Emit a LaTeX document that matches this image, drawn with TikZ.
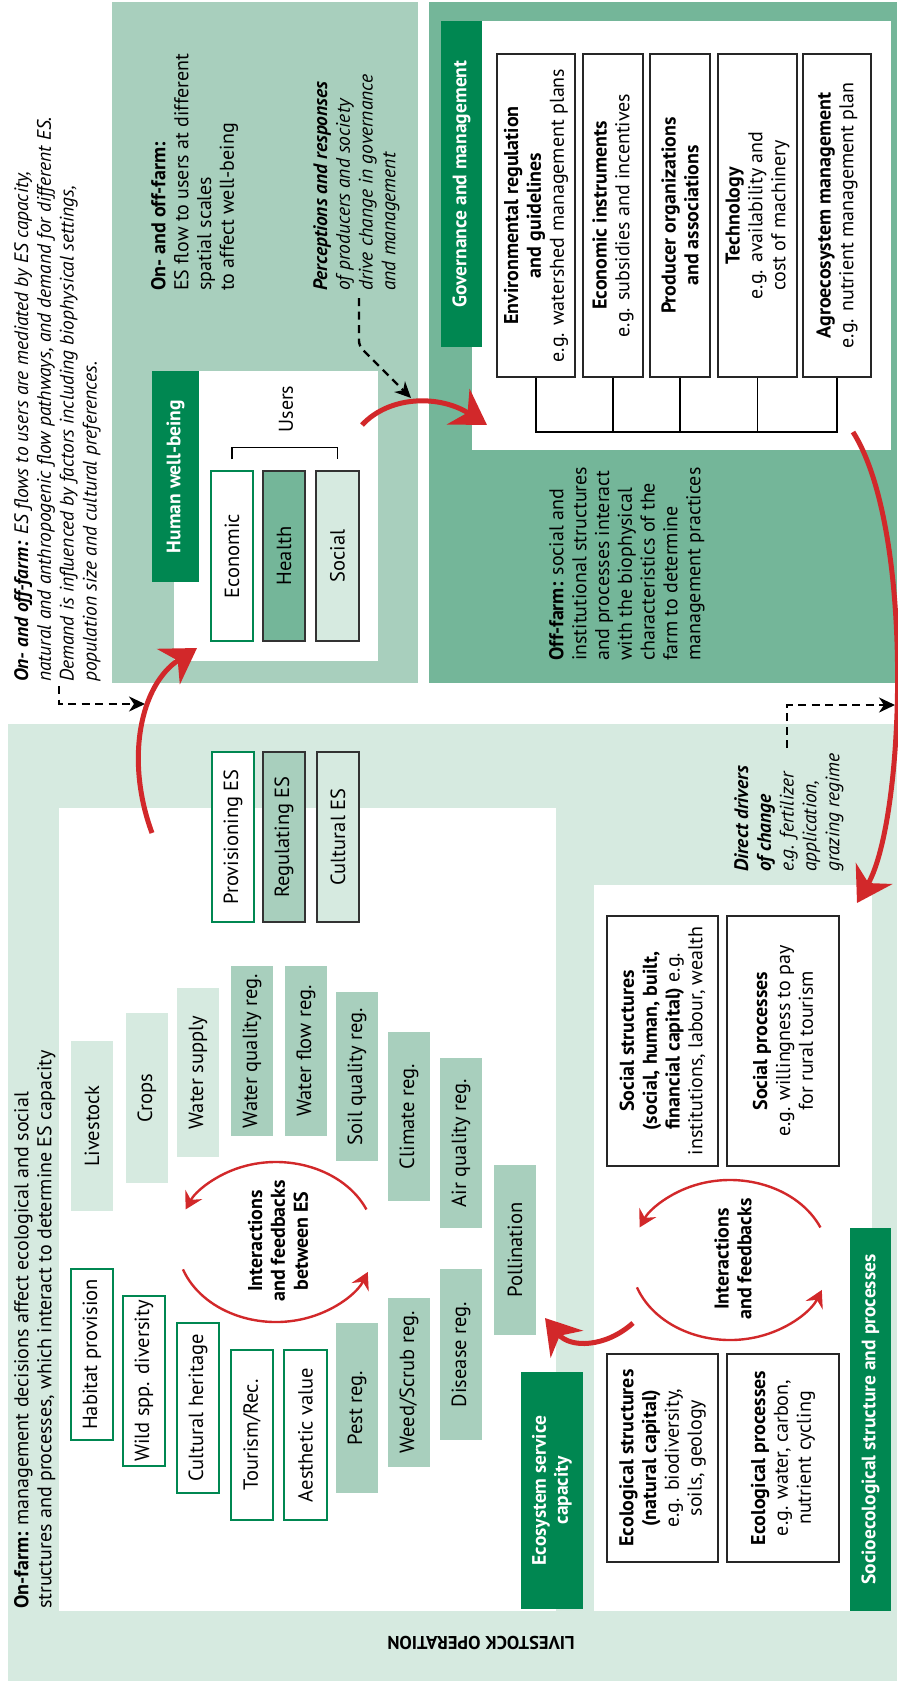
\documentclass[tikz,border=0pt]{standalone}
\usepackage{fontspec}
\setmainfont{PT Sans}
\usetikzlibrary{arrows.meta,calc}
\definecolor{dkgreen}{RGB}{0,135,81}
\definecolor{mdgreen}{RGB}{116,182,153}
\definecolor{ltgreen}{RGB}{168,207,189}
\definecolor{pale}{RGB}{214,234,224}
\definecolor{esred}{RGB}{210,40,42}
\newcommand\fs{\fontsize{20}{22.8}\selectfont}
\newcommand\fsi{\fontsize{19.5}{22.8}\selectfont}
\newcommand\fsh{\fontsize{19.5}{22}\selectfont}
\newcommand\fsb{\fontsize{20.5}{22}\selectfont}
\newcommand\rnode[7]{\node[#5,rotate=90,minimum width={(#4)-(#2)},minimum height={(#3)-(#1)}] (#6) at ({((#1)+(#3))/2},{((#2)+(#4))/2}) {#7};}
\begin{document}
\begin{tikzpicture}[x=1pt,y=-1pt,
  every node/.style={inner sep=0pt,font=\fs},
  hdr/.style={fill=dkgreen,text=white,font=\fsh\bfseries,align=center},
  wbox/.style={fill=white,draw=dkgreen,line width=1.2pt,align=center,font=\fsb},
  dbox/.style={draw=black!80,line width=1.5pt,align=center,font=\fsb},
  pbox/.style={fill=pale,align=center,font=\fsb},
  rgbox/.style={fill=ltgreen,align=center,font=\fsb},
  kbox/.style={fill=white,draw=black!85,line width=1.3pt,align=center},
  txt/.style={rotate=90,anchor=north west,align=left},
  bigred/.style={draw=esred,line width=5pt,-{Stealth[length=34pt,width=42pt,inset=11pt]}},
  smallred/.style={draw=esred,line width=2.4pt,-{Stealth[length=17pt,width=19pt,inset=6pt]}},
  dasharrow/.style={draw=black,line width=2.4pt,dash pattern=on 8pt off 5.5pt,-{Stealth[length=16pt,width=15pt,inset=5pt]}}
]
\useasboundingbox (0,0) rectangle (897,1681);
% panels
\fill[ltgreen] (112,2) rectangle (418,683);
\fill[mdgreen] (429,2) rectangle (897,683);
\fill[pale] (8,724) rectangle (897,1681);
\fill[white] (174,371) rectangle (378,661);
\fill[white] (472,21) rectangle (891,450);
\fill[white] (59,808) rectangle (556,1611);
\fill[white] (594,885) rectangle (872,1611);
% headers
\rnode{152}{371}{199}{582}{hdr}{hwb}{Human well-being}
\rnode{441}{21}{482}{347}{hdr}{gov}{Governance and management}
\rnode{521}{1372}{583}{1609}{hdr}{esc}{Ecosystem service\\capacity}
\rnode{850}{1228}{891}{1611}{hdr}{seh}{Socioecological structure and processes}
% human well-being
\rnode{211}{471}{253}{641}{wbox}{eco}{Economic}
\rnode{263}{471}{305}{641}{dbox,fill=mdgreen}{hea}{Health}
\rnode{316}{471}{359}{641}{dbox,fill=pale}{soc}{Social}
\node[rotate=90] (users) at (286,409) {Users};
\draw[line width=1.2pt] ([yshift=11pt]eco.east) -- ++(0,-12) -| ([yshift=11pt]soc.east);
% governance
\rnode{497}{54}{575}{377}{kbox}{g1}{\textbf{Environmental regulation}\\\textbf{and guidelines}\\e.g. watershed management plans}
\rnode{583}{54}{643}{377}{kbox}{g2}{\textbf{Economic instruments}\\e.g. subsidies and incentives}
\rnode{650}{54}{710}{377}{kbox}{g3}{\textbf{Producer organizations}\\\textbf{and associations}}
\rnode{718}{54}{797}{377}{kbox}{g4}{\textbf{Technology}\\e.g. availability and\\cost of machinery}
\rnode{803}{54}{871}{377}{kbox}{g5}{\textbf{Agroecosystem management}\\e.g. nutrient management plan}
\coordinate (bus) at (0,432);
\draw[line width=1.3pt] (g1.west) -- (g1.west |- bus) -- (g5.west |- bus) -- (g5.west);
\foreach \g in {g2,g3,g4}{\draw[line width=1.3pt] (\g.west) -- (\g.west |- bus);}
% ES boxes
\rnode{71}{1269}{113}{1440}{wbox}{hab}{Habitat provision}
\rnode{123}{1296}{165}{1466}{wbox}{wild}{Wild spp. diversity}
\rnode{177}{1323}{219}{1493}{wbox}{cult}{Cultural heritage}
\rnode{231}{1350}{273}{1520}{wbox}{tour}{Tourism/Rec.}
\rnode{284}{1350}{327}{1520}{wbox}{aest}{Aesthetic value}
\rnode{71}{1041}{113}{1211}{pbox}{live}{Livestock}
\rnode{126}{1013}{168}{1183}{pbox}{crop}{Crops}
\rnode{177}{988}{219}{1157}{pbox}{wsup}{Water supply}
\rnode{231}{966}{273}{1136}{rgbox}{wq}{Water quality reg.}
\rnode{285}{966}{327}{1136}{rgbox}{wf}{Water flow reg.}
\rnode{336}{992}{378}{1161}{rgbox}{soil}{Soil quality reg.}
\rnode{388}{1032}{430}{1201}{rgbox}{clim}{Climate reg.}
\rnode{440}{1058}{482}{1228}{rgbox}{air}{Air quality reg.}
\rnode{494}{1165}{536}{1335}{rgbox}{poll}{Pollination}
\rnode{336}{1323}{378}{1493}{rgbox}{pest}{Pest reg.}
\rnode{388}{1298}{430}{1467}{rgbox}{weed}{Weed/Scrub reg.}
\rnode{440}{1269}{482}{1440}{rgbox}{dis}{Disease reg.}
% legend
\rnode{212}{752}{254}{922}{wbox}{lprov}{Provisioning ES}
\rnode{263}{752}{305}{922}{dbox,fill=ltgreen}{lreg}{Regulating ES}
\rnode{317}{752}{359}{922}{dbox,fill=pale}{lcul}{Cultural ES}
% socioecological
\rnode{607}{916}{718}{1166}{kbox}{ss}{\textbf{Social structures}\\\textbf{(social, human, built,}\\\textbf{financial capital)} e.g.\\institutions, labour, wealth}
\rnode{727}{916}{839}{1166}{kbox}{sp}{\textbf{Social processes}\\e.g. willingness to pay\\for rural tourism}
\rnode{607}{1354}{718}{1562}{kbox}{es}{\textbf{Ecological structures}\\\textbf{(natural capital)}\\e.g. biodiversity,\\soils, geology}
\rnode{727}{1354}{839}{1562}{kbox}{ep}{\textbf{Ecological processes}\\e.g. water, carbon,\\nutrient cycling}
% interactions
\node[rotate=90,align=center,font=\fs\bfseries] (int1) at (278,1241) {Interactions\\and feedbacks\\between ES};
\node[rotate=90,align=center,font=\fs\bfseries] (int2) at (733,1259) {Interactions\\and feedbacks};
\coordinate (c1) at (276,1242);
\coordinate (c2) at (730,1260);
\foreach \c in {c1,c2}{
  \draw[smallred] ($(\c)+(-24:99 and 80)$) arc[start angle=-24,end angle=-156,x radius=99,y radius=80];
  \draw[smallred] ($(\c)+(160:99 and 80)$) arc[start angle=160,end angle=22,x radius=99,y radius=80];
}
% text blocks
\node[txt,font=\fsi\itshape] (note1) at (14,682) {\textbf{On- and off-farm:} ES flows to users are mediated by ES capacity,\\natural and anthropogenic flow pathways, and demand for different ES.\\Demand is influenced by factors including biophysical settings,\\population size and cultural preferences.};
\node[txt] (flow) at (151,291) {\textbf{On- and off-farm:}\\ES flow to users at different\\spatial scales\\to affect well-being};
\node[txt,font=\fsi\itshape] (perc) at (313,291) {\textbf{Perceptions and responses}\\of producers and society\\drive change in governance\\and management};
\node[txt] (off) at (549,661) {\textbf{Off-farm:} social and\\institutional structures\\and processes interact\\with the biophysical\\characteristics of the\\farm to determine\\management practices};
\node[txt] (onf) at (14,1609) {\textbf{On-farm:} management decisions affect ecological and social\\structures and processes, which interact to determine ES capacity};
\node[txt,font=\fsi\itshape] (drv) at (734,872) {\textbf{Direct drivers}\\\textbf{of change}\\e.g. fertilizer\\application,\\grazing regime};
\node[rotate=180,font=\fontsize{18.5}{20}\selectfont\bfseries] (lo) at (481,1643) {LIVESTOCK OPERATION};
% dashed connectors
\coordinate (d1s) at (59,686); \coordinate (d1e) at (145,704);
\draw[dasharrow] (d1s) |- (d1e);
\coordinate (d2s) at (359,298); \coordinate (d2e) at (411,398);
\draw[dasharrow,rounded corners=5pt] (d2s) -- ++(0,48) -- (d2e);
\coordinate (d3s) at (787,748); \coordinate (d3e) at (895,705);
\draw[dasharrow] (d3s) |- (d3e);
% red arrows
\coordinate (a1s) at (152,833); \coordinate (a1e) at (197,648);
\draw[bigred] (a1s) .. controls (125,760) and (140,685) .. (a1e);
\coordinate (a2s) at (362,425); \coordinate (a2e) at (487,425);
\draw[bigred] (a2s) .. controls (390,395) and (440,395) .. (a2e);
\coordinate (a3s) at (853,432); \coordinate (a3e) at (857,903);
\draw[bigred] (a3s) .. controls (915,530) and (905,820) .. (a3e);
\coordinate (a4s) at (633,1323); \coordinate (a4e) at (545,1318);
\draw[bigred] (a4s) .. controls (605,1348) and (570,1348) .. (a4e);
\end{tikzpicture}
\end{document}
